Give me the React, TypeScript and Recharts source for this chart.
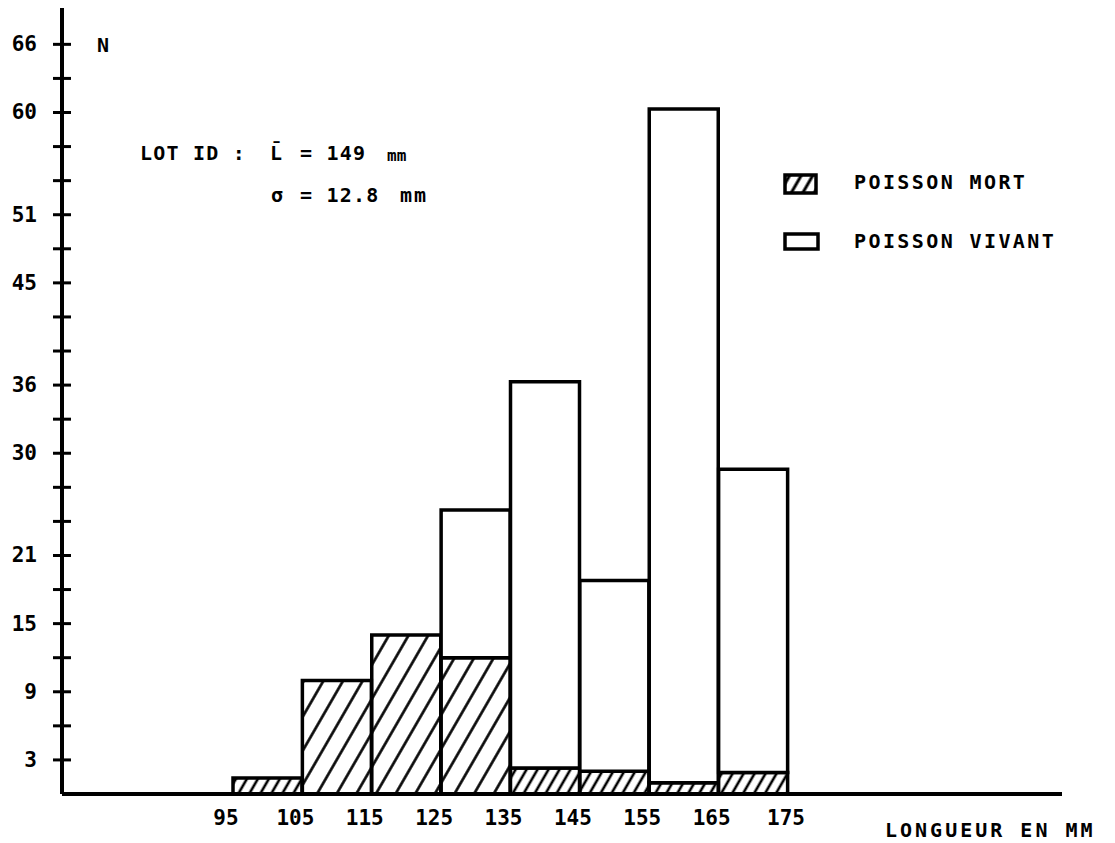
import React from "react";
import { BarChart, Bar, XAxis, YAxis, Legend, Cell } from "recharts";

// length classes (mm) and counts per class
const BINS = ["95-105", "105-115", "115-125", "125-135", "135-145", "145-155", "155-165", "165-175"];
const MORT = [1.4, 10, 14, 12, 2.3, 2.0, 1.0, 1.9];
const VIVANT = [0, 0, 0, 13, 34, 16.8, 59.3, 26.7];

// class limits written under the axis
const LENGTH_TICKS = [95, 105, 115, 125, 135, 145, 155, 165, 175];
const Y_TICKS = [3, 6, 9, 12, 15, 18, 21, 24, 27, 30, 33, 36, 39, 42, 45, 48, 51, 54, 57, 60, 63, 66];
const Y_LABELS = [3, 9, 15, 21, 30, 36, 45, 51, 60, 66];

const data = BINS.map((bin, i) => ({ bin, mort: MORT[i], vivant: VIVANT[i] }));

const FONT = "'DejaVu Sans Mono', monospace";
const INK = "#000";

function YTick({ x, y, payload }: any) {
  const v = payload.value;
  return (
    <g>
      <line x1={x - 9} x2={x + 9} y1={y} y2={y} stroke={INK} strokeWidth={3} />
      {Y_LABELS.includes(v) && (
        <text
          x={x - 25}
          y={y}
          textAnchor="end"
          dominantBaseline="central"
          fontFamily={FONT}
          fontWeight="bold"
          fontSize={21}
          fill={INK}
        >
          {v}
        </text>
      )}
    </g>
  );
}

// labels sit on the class limits (a little left of them, as in the original)
function XTick({ x, y, payload, index }: any) {
  const i = payload?.index ?? index ?? 0;
  const half = payload?.offset ?? 34.7;
  const style = {
    textAnchor: "middle" as const,
    dominantBaseline: "central" as const,
    fontFamily: FONT,
    fontWeight: "bold" as const,
    fontSize: 21,
    fill: INK,
  };
  return (
    <g>
      <text x={x - half - 7} y={y + 24} {...style}>
        {LENGTH_TICKS[i]}
      </text>
      {i === BINS.length - 1 && (
        <text x={x + half - 2} y={y + 24} {...style}>
          {LENGTH_TICKS[i + 1]}
        </text>
      )}
    </g>
  );
}

function LegendBox() {
  const txt = {
    fontFamily: FONT,
    fontWeight: "bold" as const,
    fontSize: 20,
    letterSpacing: 2.4,
    fill: INK,
  };
  return (
    <svg width={320} height={100}>
      <defs>
        <pattern id="hatchLegend" patternUnits="userSpaceOnUse" width={10} height={10} patternTransform="rotate(30)">
          <line x1={5} y1={0} x2={5} y2={10} stroke={INK} strokeWidth={3} />
        </pattern>
      </defs>
      <rect x={6} y={11} width={31} height={18} fill="url(#hatchLegend)" stroke={INK} strokeWidth={3.5} />
      <text x={75} y={18} dominantBaseline="central" {...txt}>POISSON MORT</text>
      <rect x={6} y={70} width={33} height={15} fill="#fff" stroke={INK} strokeWidth={3.5} />
      <text x={75} y={77} dominantBaseline="central" {...txt}>POISSON VIVANT</text>
    </svg>
  );
}

export default function App() {
  const label = { fontFamily: FONT, fontWeight: "bold" as const, fontSize: 20, fill: INK };
  return (
    <div style={{ position: "absolute", left: 0, top: 0, background: "#fff" }}>
      <BarChart
        width={1115}
        height={843}
        data={data}
        margin={{ top: 8, right: 53, bottom: 0, left: 0 }}
        barCategoryGap={0}
        barGap={0}
      >
        <defs>
          <pattern id="hatchWide" patternUnits="userSpaceOnUse" width={17} height={17} patternTransform="rotate(30)">
            <line x1={8.5} y1={0} x2={8.5} y2={17} stroke={INK} strokeWidth={2.6} />
          </pattern>
          <pattern id="hatchNarrow" patternUnits="userSpaceOnUse" width={9.5} height={9.5} patternTransform="rotate(30)">
            <line x1={4.75} y1={0} x2={4.75} y2={9.5} stroke={INK} strokeWidth={2.6} />
          </pattern>
        </defs>

        <XAxis
          dataKey="bin"
          type="category"
          height={49}
          padding={{ left: 171, right: 274 }}
          interval={0}
          tickSize={0}
          tickMargin={0}
          tickLine={false}
          axisLine={{ stroke: INK, strokeWidth: 4 }}
          tick={<XTick />}
        />
        <YAxis
          type="number"
          domain={[0, 69.2]}
          allowDataOverflow
          ticks={Y_TICKS}
          interval={0}
          width={62}
          tickSize={0}
          tickMargin={0}
          tickLine={false}
          axisLine={{ stroke: INK, strokeWidth: 4 }}
          tick={<YTick />}
        />

        <Bar dataKey="mort" stackId="n" name="POISSON MORT" stroke={INK} strokeWidth={3.5} isAnimationActive={false}>
          {MORT.map((v, i) => (
            <Cell key={i} fill={v >= 5 ? "url(#hatchWide)" : "url(#hatchNarrow)"} />
          ))}
        </Bar>
        <Bar dataKey="vivant" stackId="n" name="POISSON VIVANT" fill="#fff" stroke={INK} strokeWidth={3.5} isAnimationActive={false} />

        <Legend
          layout="horizontal"
          verticalAlign="middle"
          align="center"
          wrapperStyle={{ position: "absolute", left: 779, top: 164, width: 320, height: 100 }}
          content={() => <LegendBox />}
        />

        {/* annotations */}
        <g>
          <text x={97} y={45} dominantBaseline="central" {...label}>N</text>
          <text x={140} y={153} dominantBaseline="central" letterSpacing={1.2} {...label}>LOT ID :</text>
          <text x={270} y={153} dominantBaseline="central" {...label}>{"L\u0304"}</text>
          <text x={300} y={153} dominantBaseline="central" letterSpacing={1.2} {...label}>= 149</text>
          <text x={387} y={155} dominantBaseline="central" {...label} fontSize={16}>mm</text>
          <text x={271} y={195} dominantBaseline="central" {...label}>σ</text>
          <text x={300} y={195} dominantBaseline="central" letterSpacing={1.2} {...label}>= 12.8</text>
          <text x={400} y={195} dominantBaseline="central" letterSpacing={2} {...label}>mm</text>
          <text x={885} y={830} dominantBaseline="central" letterSpacing={3} {...label}>LONGUEUR EN MM</text>
        </g>
      </BarChart>
    </div>
  );
}
